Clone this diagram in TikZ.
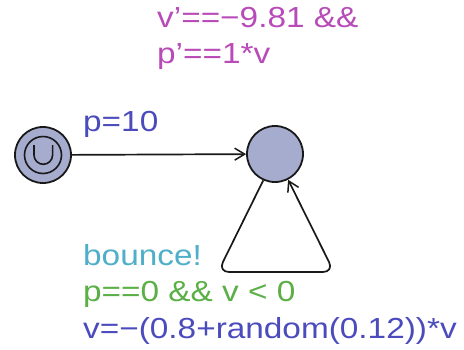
\documentclass[tikz,border=0pt]{standalone}
\usepackage{fontspec}
\setmainfont{Liberation Sans}[FakeStretch=1.15]
\usetikzlibrary{arrows.meta}
\definecolor{invcol}{RGB}{185,75,185}
\definecolor{synccol}{RGB}{80,175,200}
\definecolor{guardcol}{RGB}{90,175,70}
\definecolor{assigncol}{RGB}{75,75,190}
\definecolor{statefill}{RGB}{166,172,206}
\definecolor{edgecol}{RGB}{25,25,25}
\tikzset{
  state/.style={circle, draw=edgecol, fill=statefill, line width=1.8pt, minimum size=56pt, inner sep=0pt},
  ring/.style={circle, draw=edgecol, line width=1.6pt, minimum size=37pt, inner sep=0pt},
  edge/.style={draw=edgecol, line width=1.7pt, -{Straight Barb[length=10pt,width=12pt,line width=1.5pt]}},
  lbl/.style={anchor=base west, inner sep=0pt, font=\fontsize{29}{35}\selectfont}
}
\begin{document}
\begin{tikzpicture}[x=1pt,y=-1pt]
\useasboundingbox (0,0) rectangle (464,349);
\fill[white] (0,0) rectangle (464,349);
% states
\node[state] (init) at (43,155) {};
\node[ring] (initring) at (43,155) {};
\draw[edgecol, line width=1.6pt] (34,145) -- (34,155) arc (180:0:9.3) -- (52.6,145);
\node[state] (main) at (275,154) {};
% corners of the self loop
\coordinate (lc) at (218,272);
\coordinate (rc) at (334,272);
% edges
\draw[edge] (init) -- (main);
\draw[edge, rounded corners=11pt] (main.246) -- (lc) -- (rc) -- (main.297);
% labels
\node[lbl, text=invcol] (inv1) at (157,27) {v’==−9.81 \&\&};
\node[lbl, text=invcol] (inv2) at (157,63) {p’==1*v};
\node[lbl, text=assigncol] (p10) at (83,131) {p=10};
\node[lbl, text=synccol] (sync) at (83,265) {bounce!};
\node[lbl, text=guardcol] (guard) at (83,301) {p==0 \&\& v < 0};
\node[lbl, text=assigncol] (assign) at (83,338) {v=−(0.8+random(0.12))*v};
\end{tikzpicture}
\end{document}
